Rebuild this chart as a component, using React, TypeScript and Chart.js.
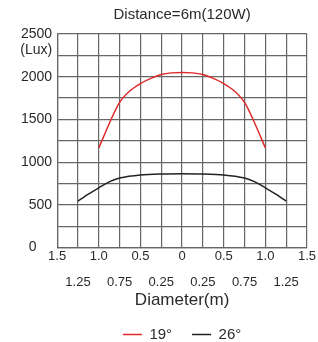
import React, { useEffect, useRef } from "react";
import { Chart, registerables } from "chart.js";

Chart.register(...registerables);

const titleText = "Distance=6m(120W)";
const xAxisTitle = "Diameter(m)";
const yUnit = "(Lux)";
const seriesNames = ["19°", "26°"];

const diam19 = [-1.0, -0.875, -0.75, -0.625, -0.5, -0.375, -0.25, -0.125, 0, 0.125, 0.25, 0.375, 0.5, 0.625, 0.75, 0.875, 1.0];
const lux19 = [1165, 1450, 1700, 1835, 1920, 1980, 2025, 2045, 2050, 2045, 2025, 1980, 1920, 1835, 1700, 1450, 1165];

const diam26 = [-1.25, -1.125, -1.0, -0.875, -0.75, -0.5, -0.25, 0, 0.25, 0.5, 0.75, 0.875, 1.0, 1.125, 1.25];
const lux26 = [545, 625, 700, 770, 815, 850, 862, 865, 862, 850, 815, 770, 700, 625, 545];

const xMin = -1.5;
const xMax = 1.5;
const yMin = 0;
const yMax = 2500;

const FONT = "'Liberation Sans', Arial, sans-serif";
const GRID = "#666666";
const TEXT = "#2a2a2a";

const unitPlugin = {
  id: "unitLabel",
  afterDraw(chart: any) {
    const y = chart.scales.y;
    const ctx = chart.ctx;
    ctx.save();
    ctx.font = `14px ${FONT}`;
    ctx.fillStyle = TEXT;
    ctx.textAlign = "right";
    ctx.textBaseline = "middle";
    ctx.fillText(yUnit, y.right - 5, y.getPixelForValue(yMax) + 16);
    ctx.restore();
  },
};

export default function App() {
  const ref = useRef<HTMLCanvasElement>(null);
  useEffect(() => {
    if (!ref.current) return;
    const chart = new Chart(ref.current, {
      type: "line",
      data: {
        datasets: [
          {
            label: seriesNames[0],
            data: diam19.map((x, i) => ({ x, y: lux19[i] })),
            borderColor: "#e02a2a",
            backgroundColor: "#e02a2a",
            borderWidth: 1.5,
            pointRadius: 0,
            tension: 0.3,
          },
          {
            label: seriesNames[1],
            data: diam26.map((x, i) => ({ x, y: lux26[i] })),
            borderColor: "#222222",
            backgroundColor: "#222222",
            borderWidth: 1.5,
            pointRadius: 0,
            tension: 0.3,
          },
        ],
      },
      options: {
        responsive: false,
        animation: false,
        layout: { padding: { left: 16, right: 11, top: 0, bottom: -10 } },
        plugins: {
          title: {
            display: true,
            text: titleText,
            fullSize: false,
            color: TEXT,
            font: { family: FONT, size: 15, weight: "normal" },
            padding: { top: 6, bottom: 10 },
          },
          legend: {
            display: true,
            position: "bottom",
            fullSize: false,
            labels: {
              usePointStyle: true,
              pointStyle: "line",
              pointStyleWidth: 19,
              color: TEXT,
              font: { family: FONT, size: 15 },
              padding: 20,
            },
          },
          tooltip: { enabled: false },
        },
        scales: {
          x: {
            type: "linear",
            min: xMin,
            max: xMax,
            grid: { color: GRID, lineWidth: 1.2, drawTicks: false },
            border: { color: GRID, width: 1.2 },
            ticks: {
              stepSize: 0.25,
              autoSkip: false,
              maxRotation: 0,
              padding: -4,
              color: TEXT,
              font: { family: FONT, size: 13, lineHeight: 2 },
              callback: (v: any) => {
                const n = Number(v);
                const q = Math.round(n * 4);
                const a = Math.abs(n);
                if (q % 2 === 0) return a === 0 ? "0" : a.toFixed(1);
                return ["", a.toFixed(2)];
              },
            },
            title: {
              display: true,
              text: xAxisTitle,
              color: TEXT,
              font: { family: FONT, size: 17 },
              padding: { top: -1, bottom: -4 },
            },
          },
          y: {
            min: yMin,
            max: yMax,
            grid: { color: GRID, lineWidth: 1.2, drawTicks: false },
            border: { color: GRID, width: 1.2 },
            ticks: {
              stepSize: 250,
              autoSkip: false,
              padding: 5,
              color: TEXT,
              font: { family: FONT, size: 14 },
              callback: (v: any) => {
                const n = Number(v);
                if (n % 500 !== 0) return "";
                return n === 0 ? "0    " : String(n);
              },
            },
          },
        },
      },
      plugins: [unitPlugin],
    } as any);
    return () => chart.destroy();
  }, []);
  return (
    <div style={{ position: "fixed", left: 0, top: 0, width: 318, height: 342, background: "#fff" }}>
      <canvas ref={ref} width={318} height={342} style={{ display: "block" }} />
    </div>
  );
}
